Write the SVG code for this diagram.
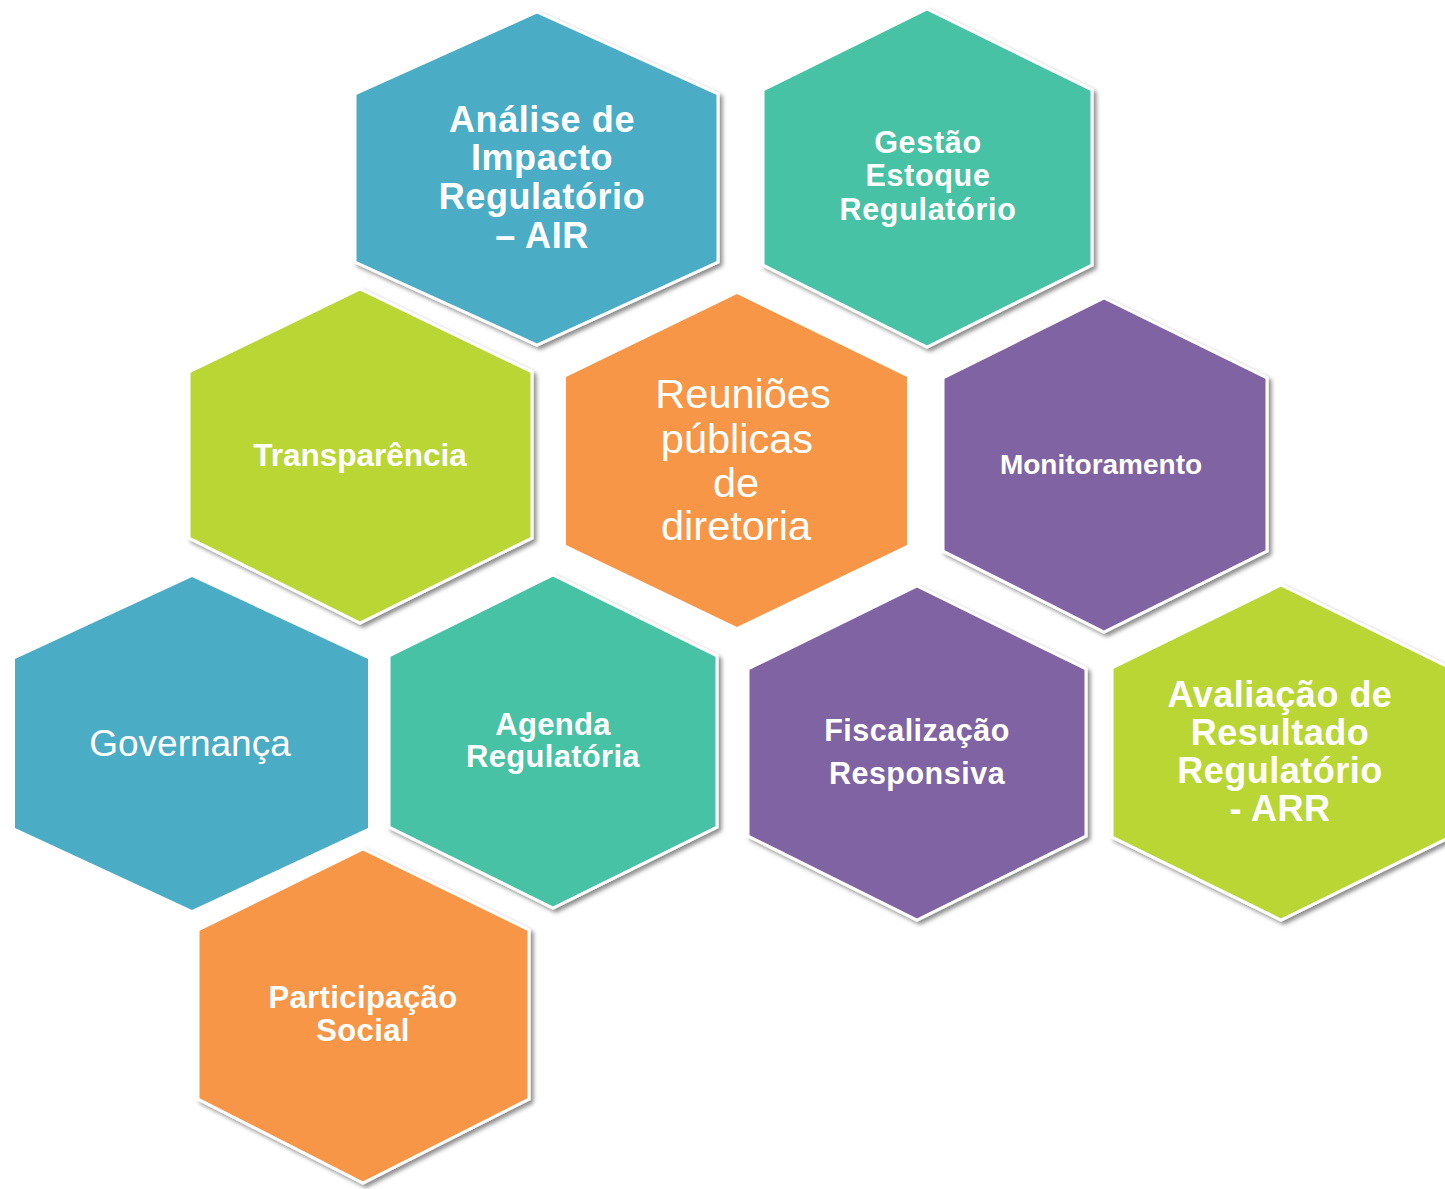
<svg xmlns="http://www.w3.org/2000/svg" width="1445" height="1189" viewBox="0 0 1445 1189">
<defs>
<filter id="sh" x="-10%" y="-10%" width="125%" height="125%">
<feDropShadow dx="3" dy="3" stdDeviation="2.2" flood-color="#000" flood-opacity="0.45"/>
</filter>
<style>
.hx{stroke:#fff;stroke-width:3;stroke-linejoin:miter;filter:url(#sh)}
.plain{stroke:none}
.blue{fill:#4BACC6}.teal{fill:#47C2A5}.green{fill:#B9D636}.orange{fill:#F79646}.purple{fill:#8064A2}
.t{font-family:"Liberation Sans",Arial,sans-serif;fill:#fff;text-anchor:middle}
.b{font-weight:bold}
</style>
</defs>
<rect width="1445" height="1189" fill="#fff"/>
<g id="connectors"/>
<g id="air">
<polygon class="hx blue" points="537,12 718,94 718,262 537,345 355,262 355,94"/>
<text class="t b" font-size="36" letter-spacing="0.6"><tspan x="542" y="132">Análise de</tspan><tspan x="542" y="170">Impacto</tspan><tspan x="542" y="209">Regulatório</tspan><tspan x="542" y="248">– AIR</tspan></text>
</g>
<g id="gestao">
<polygon class="hx teal" points="927,9 1092,90 1092,265 927,347 763,265 763,90"/>
<text class="t b" font-size="30.5" letter-spacing="0.7"><tspan x="928" y="153">Gestão</tspan><tspan x="928" y="186">Estoque</tspan><tspan x="928" y="220">Regulatório</tspan></text>
</g>
<g id="transparencia">
<polygon class="hx green" points="360,289 532,372 532,538 360,623 189,538 189,372"/>
<text class="t b" font-size="31.5" x="360" y="466">Transparência</text>
</g>
<g id="reunioes">
<polygon class="orange plain" points="737,294 907,377 907,545 737,627 566,545 566,377"/>
<text class="t" font-size="41.5"><tspan x="743" y="408">Reuniões</tspan><tspan x="737" y="453">públicas</tspan><tspan x="736" y="497">de</tspan><tspan x="736" y="540">diretoria</tspan></text>
</g>
<g id="monitoramento">
<polygon class="hx purple" points="1104,298 1267,378 1267,551 1104,632 943,551 943,378"/>
<text class="t b" font-size="28" x="1101" y="474">Monitoramento</text>
</g>
<g id="governanca">
<polygon class="blue plain" points="192,577 368,659 368,828 192,910 15,828 15,659"/>
<text class="t" font-size="37" x="190" y="756">Governança</text>
</g>
<g id="agenda">
<polygon class="hx teal" points="553,575 717,656 717,827 553,908 389,827 389,656"/>
<text class="t b" font-size="31" letter-spacing="0.3"><tspan x="553" y="735">Agenda</tspan><tspan x="553" y="767">Regulatória</tspan></text>
</g>
<g id="fiscalizacao">
<polygon class="hx purple" points="917,586 1086,669 1086,836 917,920 748,836 748,669"/>
<text class="t b" font-size="30.5" letter-spacing="0.5"><tspan x="917" y="741">Fiscalização</tspan><tspan x="917" y="784">Responsiva</tspan></text>
</g>
<g id="arr">
<polygon class="hx green" points="1281,585 1450,668 1450,837 1281,920 1112,837 1112,668"/>
<text class="t b" font-size="36" letter-spacing="0.5"><tspan x="1280" y="707">Avaliação de</tspan><tspan x="1280" y="745">Resultado</tspan><tspan x="1280" y="783">Regulatório</tspan><tspan x="1280" y="821">- ARR</tspan></text>
</g>
<g id="participacao">
<polygon class="hx orange" points="363,849 529,930 529,1099 363,1183 198,1099 198,930"/>
<text class="t b" font-size="31" letter-spacing="0.4"><tspan x="363" y="1008">Participação</tspan><tspan x="363" y="1041">Social</tspan></text>
</g>
</svg>
